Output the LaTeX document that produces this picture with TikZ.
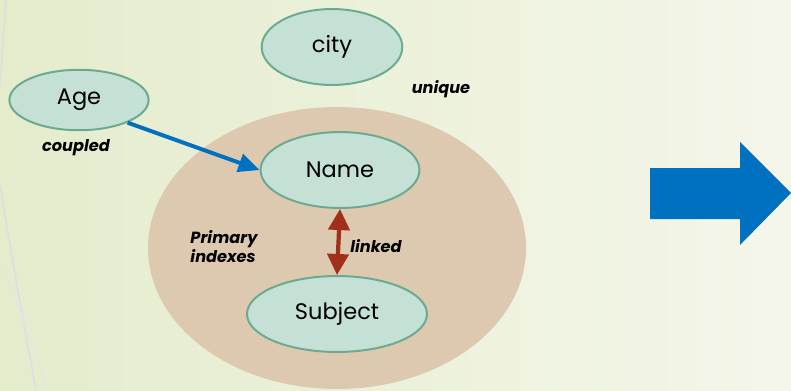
\documentclass[tikz,border=0pt]{standalone}
\usepackage{fontspec}
\setmainfont{Poppins}
\usetikzlibrary{arrows.meta, shapes.geometric}
\definecolor{bgleft}{RGB}{228,236,204}
\definecolor{bgright}{RGB}{244,246,234}
\definecolor{fieldfill}{RGB}{197,224,213}
\definecolor{fieldline}{RGB}{106,170,144}
\definecolor{groupfill}{RGB}{220,197,172}
\definecolor{linkblue}{RGB}{0,112,192}
\definecolor{linkred}{RGB}{160,48,26}
\tikzset{
  field/.style={draw=fieldline, fill=fieldfill, line width=1.4pt, ellipse, inner sep=0pt, font=\fontsize{16}{19}\selectfont},
  tag/.style={font=\bfseries\itshape\fontsize{11.5}{13.5}\selectfont, align=left}
}
\begin{document}
\begin{tikzpicture}[x=0.025cm, y=-0.025cm]
      \useasboundingbox (0,0) rectangle (791,390);
      \shade[left color=bgleft, right color=bgright] (0,0) rectangle (791,390);
      % faint curves on the left
      \draw[gray!25, line width=1.2pt] (6,0) .. controls (3,40) and (1,70) .. (-2,110);
      \draw[gray!25, line width=1.2pt] (0,185) .. controls (12,260) and (25,330) .. (36,390);
      \draw[gray!20, line width=1pt] (0,260) .. controls (20,310) and (35,350) .. (48,390);

      \fill[groupfill, opacity=0.9] (337,248) ellipse [x radius=189, y radius=141];

      \node[field, minimum width=100pt, minimum height=54pt] (city) at (332,47) {city};
      \node[field, minimum width=99pt, minimum height=43pt] (age) at (79,100) {Age};
      \node[field, minimum width=113pt, minimum height=54pt] (name) at (340,170) {Name};
      \node[field, minimum width=128pt, minimum height=54pt] (subject) at (337,314) {Subject};

      \node[tag] (coupled) at (76,148) {coupled};
      \node[tag] (unique) at (441,89) {unique};
      \node[tag] (primary) at (224,247) {Primary\\indexes};
      \node[tag] (linked) at (376,246) {linked};

      \draw[linkblue, line width=2.8pt, -{Triangle[length=15pt, width=13pt]}] (age.-25) -- (name.west);
      \draw[linkred, line width=3pt, {Triangle[length=15pt, width=15pt]}-{Triangle[length=15pt, width=15pt]}] (name.south) -- (subject.north);

      % block arrow
      \fill[linkblue] (650,168) -- (740,168) -- (740,142) -- (791,193) -- (740,245) -- (740,219) -- (650,219) -- cycle;
    \end{tikzpicture}
\end{document}
